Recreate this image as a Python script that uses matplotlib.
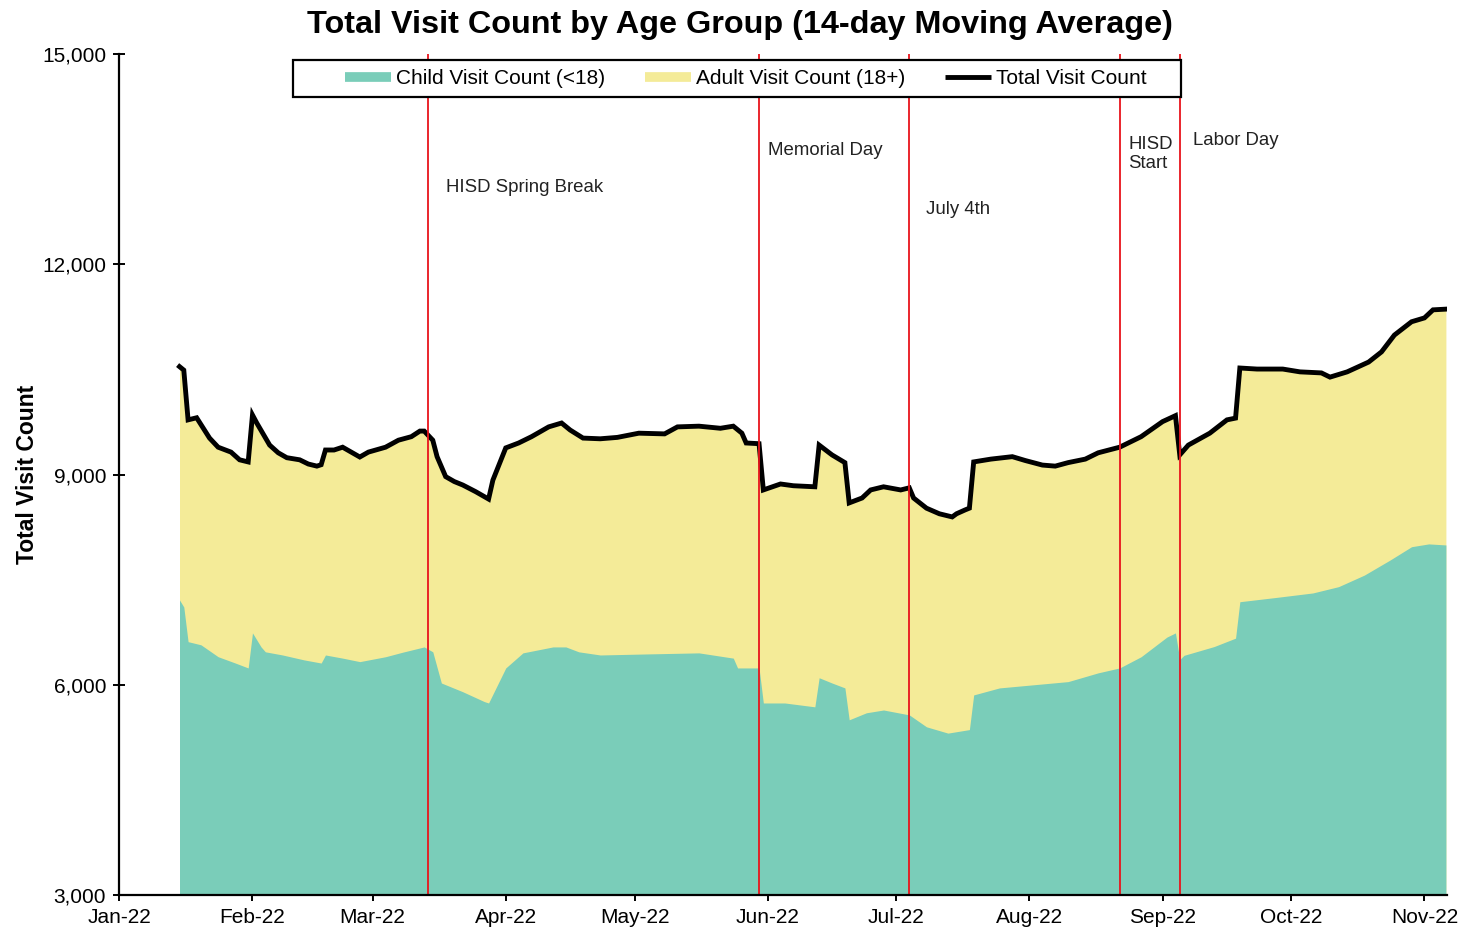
import pandas as pd
import matplotlib
matplotlib.use("Agg")
import matplotlib.pyplot as plt
import matplotlib.dates as mdates
from matplotlib.lines import Line2D
from matplotlib.patches import Rectangle
from matplotlib.ticker import FuncFormatter, MultipleLocator

plt.rcParams['font.family'] = ['Liberation Sans', 'DejaVu Sans']

# 14-day moving average, total visits
total_dates = ['2022-01-15', '2022-01-16', '2022-01-17', '2022-01-19', '2022-01-22', '2022-01-24',
               '2022-01-27', '2022-01-29', '2022-01-31', '2022-02-01', '2022-02-02', '2022-02-05',
               '2022-02-07', '2022-02-09', '2022-02-12', '2022-02-14', '2022-02-16', '2022-02-17',
               '2022-02-18', '2022-02-20', '2022-02-22', '2022-02-24', '2022-02-26', '2022-02-28',
               '2022-03-04', '2022-03-07', '2022-03-10', '2022-03-12', '2022-03-13', '2022-03-15',
               '2022-03-16', '2022-03-18', '2022-03-20', '2022-03-22', '2022-03-25', '2022-03-28',
               '2022-03-29', '2022-04-01', '2022-04-04', '2022-04-07', '2022-04-11', '2022-04-14',
               '2022-04-16', '2022-04-19', '2022-04-23', '2022-04-27', '2022-05-02', '2022-05-08',
               '2022-05-11', '2022-05-16', '2022-05-21', '2022-05-24', '2022-05-26', '2022-05-27',
               '2022-05-30', '2022-05-31', '2022-06-04', '2022-06-07', '2022-06-12', '2022-06-13',
               '2022-06-16', '2022-06-19', '2022-06-20', '2022-06-23', '2022-06-25', '2022-06-28',
               '2022-07-02', '2022-07-04', '2022-07-05', '2022-07-08', '2022-07-11', '2022-07-14',
               '2022-07-15', '2022-07-17', '2022-07-18', '2022-07-19', '2022-07-23', '2022-07-28',
               '2022-07-31', '2022-08-04', '2022-08-07', '2022-08-10', '2022-08-14', '2022-08-17',
               '2022-08-22', '2022-08-27', '2022-09-01', '2022-09-04', '2022-09-05', '2022-09-07',
               '2022-09-12', '2022-09-16', '2022-09-18', '2022-09-19', '2022-09-23', '2022-09-29',
               '2022-10-03', '2022-10-08', '2022-10-10', '2022-10-14', '2022-10-19', '2022-10-22',
               '2022-10-25', '2022-10-29', '2022-11-01', '2022-11-03', '2022-11-06']
total_values = [10540, 10490, 9780, 9810, 9520, 9390,
                9320, 9210, 9180, 9850, 9735, 9420,
                9310, 9240, 9210, 9150, 9120, 9140,
                9350, 9350, 9390, 9320, 9250, 9320,
                9390, 9490, 9540, 9620, 9620, 9490,
                9255, 8970, 8900, 8850, 8755, 8650,
                8920, 9380, 9450, 9540, 9680, 9735,
                9635, 9520, 9510, 9530, 9590, 9580,
                9680, 9690, 9660, 9690, 9590, 9450,
                9440, 8780, 8865, 8840, 8825, 9420,
                9280, 9170, 8595, 8665, 8780, 8825,
                8780, 8810, 8665, 8520, 8440, 8395,
                8440, 8495, 8520, 9180, 9220, 9255,
                9200, 9135, 9120, 9170, 9220, 9310,
                9390, 9540, 9755, 9840, 9280, 9420,
                9590, 9780, 9805, 10520, 10505, 10505,
                10465, 10450, 10390, 10465, 10605, 10750,
                10990, 11180, 11235, 11350, 11360]

# child (<18) visits
child_dates = ['2022-01-15', '2022-01-16', '2022-01-17', '2022-01-20', '2022-01-24', '2022-01-28',
               '2022-01-31', '2022-02-01', '2022-02-03', '2022-02-04', '2022-02-08', '2022-02-13',
               '2022-02-17', '2022-02-18', '2022-02-22', '2022-02-26', '2022-03-04', '2022-03-08',
               '2022-03-13', '2022-03-15', '2022-03-17', '2022-03-22', '2022-03-27', '2022-03-28',
               '2022-04-01', '2022-04-05', '2022-04-12', '2022-04-15', '2022-04-18', '2022-04-23',
               '2022-05-04', '2022-05-16', '2022-05-24', '2022-05-25', '2022-05-30', '2022-05-31',
               '2022-06-05', '2022-06-12', '2022-06-13', '2022-06-16', '2022-06-19', '2022-06-20',
               '2022-06-24', '2022-06-28', '2022-07-04', '2022-07-08', '2022-07-13', '2022-07-18',
               '2022-07-19', '2022-07-25', '2022-08-02', '2022-08-10', '2022-08-17', '2022-08-22',
               '2022-08-27', '2022-09-02', '2022-09-04', '2022-09-05', '2022-09-06', '2022-09-13',
               '2022-09-18', '2022-09-19', '2022-09-28', '2022-10-06', '2022-10-12', '2022-10-18',
               '2022-10-24', '2022-10-29', '2022-11-02', '2022-11-06']
child_values = [7210, 7110, 6615, 6570, 6400, 6310,
                6240, 6740, 6540, 6470, 6425, 6355,
                6310, 6425, 6380, 6330, 6400, 6465,
                6540, 6470, 6025, 5900, 5760, 5740,
                6240, 6455, 6540, 6540, 6470, 6425,
                6440, 6455, 6380, 6240, 6240, 5740,
                5740, 5685, 6100, 6025, 5955, 5500,
                5600, 5640, 5570, 5400, 5310, 5360,
                5855, 5955, 6000, 6045, 6170, 6240,
                6400, 6680, 6740, 6360, 6420, 6545,
                6665, 7185, 7250, 7310, 7400, 7565,
                7780, 7970, 8010, 7995]

event_dates = ['2022-03-14', '2022-05-30', '2022-07-04', '2022-08-22', '2022-09-05']
event_labels = ['HISD Spring Break', 'Memorial Day', 'July 4th', 'HISD\nStart', 'Labor Day']
# label anchor (date, y) for each event text
label_dates = ['2022-03-18', '2022-06-01', '2022-07-08', '2022-08-24', '2022-09-08']
label_y = [13100, 13630, 12780, 13580, 13770]

teal = '#7ACDB9'
yellow = '#F4EB98'

td = pd.to_datetime(total_dates)
cd = pd.to_datetime(child_dates)

fig = plt.figure(figsize=(14.65, 9.32), dpi=100)
ax = fig.add_axes([0.0815, 0.0397, 0.9062, 0.9023])

# adult area sits between child and total
ax.fill_between(td, total_values, 0, color=yellow, linewidth=0, zorder=1)
ax.fill_between(cd, child_values, 0, color=teal, linewidth=0, zorder=2)
ax.plot(td, total_values, color='black', lw=3.5, zorder=3, solid_joinstyle='miter')

for d in event_dates:
    ax.axvline(pd.Timestamp(d), color='#E8141B', lw=1.3, zorder=3.5)
for d, y, lab in zip(label_dates, label_y, event_labels):
    ax.text(pd.Timestamp(d), y, lab, fontsize=13.4, va='center', ha='left',
            color='#222222', linespacing=1.15)

ax.set_xlim(pd.Timestamp('2022-01-01'), pd.Timestamp('2022-11-06 06:00'))
ax.set_ylim(3000, 15000)
ax.yaxis.set_major_locator(MultipleLocator(3000))
ax.yaxis.set_major_formatter(FuncFormatter(lambda v, p: f'{int(v):,}'))
ax.xaxis.set_major_locator(mdates.MonthLocator())
ax.xaxis.set_major_formatter(mdates.DateFormatter('%b-%y'))

for s in ['top', 'right']:
    ax.spines[s].set_visible(False)
for s in ['left', 'bottom']:
    ax.spines[s].set_linewidth(1.6)
    ax.spines[s].set_zorder(6)
ax.tick_params(axis='both', direction='inout', length=9, width=1.4, labelsize=15, pad=5)

ax.set_ylabel('Total Visit Count', fontsize=16.5, fontweight='bold', labelpad=2)
fig.text(0.505, 0.973, 'Total Visit Count by Age Group (14-day Moving Average)',
         fontsize=23.3, fontweight='bold', ha='center', va='center')

# legend box
ax.add_patch(Rectangle((0.131, 0.949), 0.669, 0.044, transform=ax.transAxes,
                       facecolor='white', edgecolor='black', lw=1.6, zorder=4, clip_on=False))
handles = [Line2D([], [], color=teal, lw=7, solid_capstyle='butt'),
           Line2D([], [], color=yellow, lw=7, solid_capstyle='butt'),
           Line2D([], [], color='black', lw=3.5, solid_capstyle='butt')]
labels = ['Child Visit Count (<18)', 'Adult Visit Count (18+)', 'Total Visit Count']
leg = ax.legend(handles, labels, loc='center', bbox_to_anchor=(0.472, 0.971), ncol=3,
                frameon=False, fontsize=15, handlelength=2.2, handletextpad=0.25,
                columnspacing=1.9)
leg.set_zorder(5)

plt.savefig('out.png', dpi=100)
